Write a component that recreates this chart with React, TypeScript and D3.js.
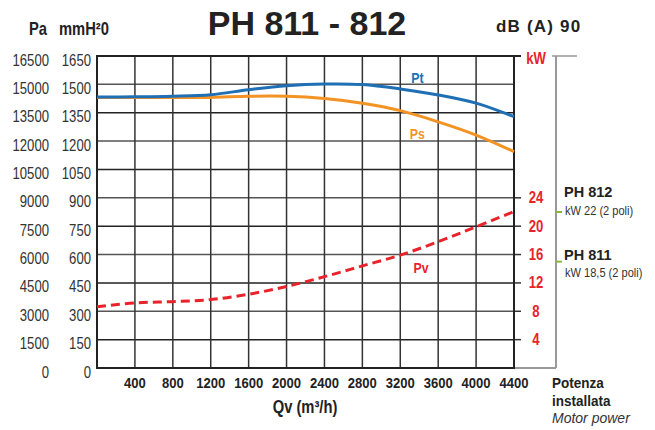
import * as d3 from "d3";

// Flow rate (m3/h) and curves (mmH2O)
const flow = [0, 400, 800, 1200, 1600, 2000, 2400, 2800, 3200, 3600, 4000, 4400];
const pt = [1433, 1434, 1437, 1445, 1472, 1493, 1502, 1499, 1476, 1444, 1401, 1329];
const ps = [1430, 1430, 1430, 1431, 1437, 1437, 1425, 1400, 1361, 1302, 1232, 1144];
const pv = [324, 344, 351, 362, 390, 431, 483, 540, 597, 668, 747, 827];

const xTicks = [400, 800, 1200, 1600, 2000, 2400, 2800, 3200, 3600, 4000, 4400];
const mmTicks = [0, 150, 300, 450, 600, 750, 900, 1050, 1200, 1350, 1500, 1650];
const paTicks = [0, 1500, 3000, 4500, 6000, 7500, 9000, 10500, 12000, 13500, 15000, 16500];
const kwTicks = [4, 8, 12, 16, 20, 24];

const models = [
  { name: "PH 812", power: "kW 22 (2 poli)", markKw: 22 },
  { name: "PH 811", power: "kW 18,5 (2 poli)", markKw: 15 },
];
// label offsets around the green mark (name, power line)
const modelOffsets = [
  [-15, 3],
  [-2, 15],
];

const BLUE = "#1f6fb4";
const ORANGE = "#f39324";
const RED = "#e8232b";
const GREEN = "#8ab83a";
const SANS = "'Liberation Sans', Arial, sans-serif";

// condensed text: Liberation Sans squeezed horizontally
function NText({
  x, y, size, children, anchor = "start", weight = "normal", fill = "#222", sx = 0.82, style = "normal",
}: {
  x: number; y: number; size: number; children: any; anchor?: string; weight?: string;
  fill?: string; sx?: number; style?: string;
}) {
  return (
    <text
      transform={`translate(${x},${y}) scale(${sx},1)`}
      textAnchor={anchor}
      fontFamily={SANS}
      fontWeight={weight}
      fontStyle={style}
      fontSize={size}
      fill={fill}
    >
      {children}
    </text>
  );
}

export default function App() {
  const width = 655;
  const height = 430;
  const left = 97, right = 514, top = 56, bottom = 368;

  const x = d3.scaleLinear().domain([0, 4400]).range([left, right]);
  const y = d3.scaleLinear().domain([0, 1650]).range([bottom, top]);
  // 4 kW per 150 mmH2O division
  const yKw = d3.scaleLinear().domain([0, 44]).range([bottom, top]);

  const line = d3
    .line<number>()
    .x((_, i) => x(flow[i]))
    .y((d) => y(d))
    .curve(d3.curveCatmullRom.alpha(0.5));

  const axisX = 556;

  return (
    <div style={{ position: "absolute", left: 0, top: 0 }}>
      <svg width={width} height={height} viewBox={`0 0 ${width} ${height}`}>
        <rect width={width} height={height} fill="#fff" />

        {/* title */}
        <text x={307} y={35} textAnchor="middle" fontFamily={SANS} fontWeight="bold" fontSize={34} fill="#222">
          PH 811 - 812
        </text>
        <text x={496} y={32} fontFamily={SANS} fontWeight="bold" fontSize={17} letterSpacing={1.2} fill="#222">
          dB (A) 90
        </text>

        {/* unit headers */}
        <NText x={29} y={35} size={18} weight="bold">Pa</NText>
        <NText x={59} y={35} size={18} weight="bold">mmH²0</NText>

        {/* gridlines */}
        <g>
          {mmTicks.slice(1, -1).map((t, i) => (
            <line key={"h" + t} x1={left} x2={right} y1={y(t)} y2={y(t)}
              stroke={i % 2 === 0 ? "#222" : "#555"} strokeWidth={1.5} />
          ))}
          {xTicks.slice(0, -1).map((t) => (
            <line key={"v" + t} x1={x(t)} x2={x(t)} y1={top} y2={bottom} stroke="#333" strokeWidth={1.5} />
          ))}
        </g>

        {/* kW tick stubs */}
        {kwTicks.map((k) => (
          <line key={"k" + k} x1={right} x2={521} y1={yKw(k)} y2={yKw(k)} stroke="#333" strokeWidth={1.5} />
        ))}

        {/* frame */}
        <line x1={right} x2={axisX} y1={bottom} y2={bottom} stroke="#999" strokeWidth={2} />
        <rect x={left} y={top} width={right - left} height={bottom - top} fill="none" stroke="#222" strokeWidth={2} />
        <line x1={right} x2={521} y1={top} y2={top} stroke="#222" strokeWidth={2} />
        <line x1={axisX} x2={axisX} y1={top} y2={bottom} stroke="#999" strokeWidth={2} />
        <line x1={552} x2={577} y1={top} y2={top} stroke="#999" strokeWidth={1.5} />

        {/* left axis labels */}
        {mmTicks.map((t) => (
          <NText key={"mm" + t} x={91} y={y(t) + 9.5} anchor="end" size={16} fill="#333">{t}</NText>
        ))}
        {paTicks.map((t, i) => (
          <NText key={"pa" + t} x={49} y={y(mmTicks[i]) + 9.5} anchor="end" size={16} fill="#333">{t}</NText>
        ))}

        {/* x axis labels */}
        {xTicks.map((t) => (
          <NText key={"x" + t} x={x(t)} y={388} anchor="middle" size={14.5} weight="bold" sx={0.9}>{t}</NText>
        ))}
        <NText x={305} y={413} anchor="middle" size={18} weight="bold">Qv (m³/h)</NText>

        {/* kW axis */}
        <NText x={536} y={64} anchor="middle" size={16} weight="bold" fill={RED}>kW</NText>
        {kwTicks.map((k) => (
          <NText key={"kl" + k} x={536} y={yKw(k) + 5.5} anchor="middle" size={16} weight="bold" fill={RED}>{k}</NText>
        ))}

        {/* motor power */}
        {models.map((m, i) => (
          <g key={m.name}>
            <line x1={axisX} x2={562} y1={yKw(m.markKw)} y2={yKw(m.markKw)} stroke={GREEN} strokeWidth={2} />
            <text x={564} y={yKw(m.markKw) + modelOffsets[i][0]} fontFamily={SANS} fontWeight="bold" fontSize={14.5} fill="#222">{m.name}</text>
            <NText x={565} y={yKw(m.markKw) + modelOffsets[i][1]} size={13.5} fill="#333">{m.power}</NText>
          </g>
        ))}
        <NText x={552} y={388} size={15} weight="bold" sx={0.9}>Potenza</NText>
        <NText x={552} y={406} size={15} weight="bold" sx={0.9}>installata</NText>
        <text x={552} y={423} fontFamily={SANS} fontStyle="italic" fontSize={14} fill="#333">Motor power</text>

        {/* curves */}
        <path d={line(ps) ?? ""} fill="none" stroke={ORANGE} strokeWidth={3} />
        <path d={line(pt) ?? ""} fill="none" stroke={BLUE} strokeWidth={3} />
        <path d={line(pv) ?? ""} fill="none" stroke={RED} strokeWidth={3} strokeDasharray="9,5" />

        <NText x={x(3380)} y={83} anchor="middle" size={15} weight="bold" fill={BLUE}>Pt</NText>
        <NText x={x(3380)} y={139} anchor="middle" size={15} weight="bold" fill={ORANGE}>Ps</NText>
        <NText x={x(3420)} y={273} anchor="middle" size={15} weight="bold" fill={RED}>Pv</NText>
      </svg>
    </div>
  );
}
